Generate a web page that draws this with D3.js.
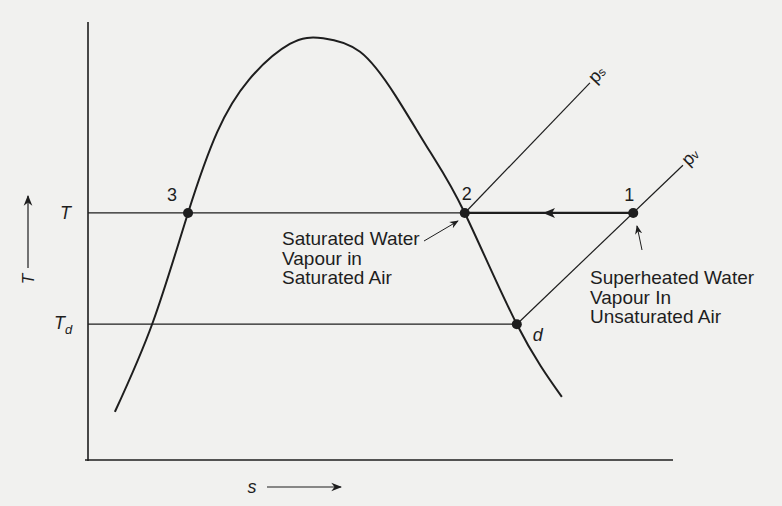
<!DOCTYPE html>
<html>
<head>
<meta charset="utf-8">
<script src="https://cdn.jsdelivr.net/npm/d3@7"></script>
<style>
  body { margin: 0; background: #f1f1ef; }
  svg { display: block; }
  text { font-family: "Liberation Sans", Arial, sans-serif; fill: #1e1e1e; }
</style>
</head>
<body>
<svg id="chart"></svg>
<script>
// saturation dome (entropy s, temperature T), arbitrary units 0-100
const domeS = [4.6, 11.1, 17.1, 22.1, 27.5, 34.5, 40.2, 46.5, 52.5, 58.5, 64.4, 73.3, 81.0];
const domeT = [11.0, 31.5, 56.4, 74.9, 86.8, 95.0, 96.3, 93.2, 83.3, 70.3, 56.4, 31.0, 14.4];

// isotherms
const levelNames = ["T", "Td"];
const levelT = [56.4, 31.0];

// state points
const pointNames = ["3", "2", "1", "d"];
const pointS = [17.1, 64.4, 93.2, 73.3];
const pointT = [56.4, 56.4, 56.4, 31.0];

// constant pressure lines
const psS = [64.4, 85.8];
const psT = [56.4, 86.1];
const pvS = [73.3, 101.7];
const pvT = [31.0, 67.3];

const svgWidth = 782;
const svgHeight = 506;
const margin = { top: 22, right: 109, bottom: 46, left: 88 };

const svg = d3.select("#chart")
  .attr("width", svgWidth)
  .attr("height", svgHeight);

svg.append("rect")
  .attr("width", svgWidth).attr("height", svgHeight)
  .attr("fill", "#f1f1ef");

const x = d3.scaleLinear().domain([0, 100]).range([margin.left, svgWidth - margin.right]);
const y = d3.scaleLinear().domain([0, 100]).range([svgHeight - margin.bottom, margin.top]);

const ink = "#1e1e1e";

// axes (plain lines, no ticks)
svg.append("line")
  .attr("x1", x(0)).attr("x2", x(0))
  .attr("y1", y(100)).attr("y2", y(0) + 1)
  .attr("stroke", ink).attr("stroke-width", 1.6);
svg.append("line")
  .attr("x1", x(0) - 3).attr("x2", x(100))
  .attr("y1", y(0)).attr("y2", y(0))
  .attr("stroke", ink).attr("stroke-width", 1.6);

// isotherm T: from axis to point 1, Td: from axis to point d
const levelEnd = [pointS[2], pointS[3]];
svg.selectAll(".level")
  .data(levelT)
  .enter().append("line")
  .attr("class", "level")
  .attr("x1", x(0))
  .attr("x2", (d, i) => x(levelEnd[i]))
  .attr("y1", d => y(d))
  .attr("y2", d => y(d))
  .attr("stroke", ink).attr("stroke-width", 1.3);

// process 1 -> 2 (heavier)
svg.append("line")
  .attr("x1", x(pointS[2])).attr("x2", x(pointS[1]))
  .attr("y1", y(pointT[2])).attr("y2", y(pointT[1]))
  .attr("stroke", ink).attr("stroke-width", 2.2);

// arrowhead pointing to 2
const ax = x((pointS[1] + pointS[2]) / 2);
const ay = y(pointT[1]);
svg.append("path")
  .attr("d", `M${ax - 6},${ay} L${ax + 6},${ay - 5} L${ax + 3},${ay} L${ax + 6},${ay + 5} Z`)
  .attr("fill", ink);

// saturation dome
const line = d3.line().curve(d3.curveNatural);
svg.append("path")
  .attr("d", line(domeS.map((s, i) => [x(s), y(domeT[i])])))
  .attr("fill", "none")
  .attr("stroke", ink)
  .attr("stroke-width", 2);

// constant pressure lines with rotated labels at their ends
function isobar(sArr, tArr, name) {
  const x1 = x(sArr[0]), y1 = y(tArr[0]), x2 = x(sArr[1]), y2 = y(tArr[1]);
  svg.append("line")
    .attr("x1", x1).attr("x2", x2).attr("y1", y1).attr("y2", y2)
    .attr("stroke", ink).attr("stroke-width", 1.2);
  const ang = Math.atan2(y2 - y1, x2 - x1) * 180 / Math.PI;
  const t = svg.append("text")
    .attr("transform", `translate(${x2},${y2}) rotate(${ang}) translate(3,5)`)
    .attr("font-size", 18)
    .text("p");
  t.append("tspan").attr("font-size", 12).attr("dy", 0).text(name);
}
isobar(psS, psT, "s");
isobar(pvS, pvT, "v");

// state points
svg.selectAll(".pt")
  .data(pointNames)
  .enter().append("circle")
  .attr("class", "pt")
  .attr("cx", (d, i) => x(pointS[i]))
  .attr("cy", (d, i) => y(pointT[i]))
  .attr("r", 5)
  .attr("fill", ink);

const labelOff = { "3": [-16, -12], "2": [2, -13], "1": [-4, -12], "d": [21, 17] };
svg.selectAll(".ptlabel")
  .data(pointNames)
  .enter().append("text")
  .attr("class", "ptlabel")
  .attr("x", (d, i) => x(pointS[i]) + labelOff[d][0])
  .attr("y", (d, i) => y(pointT[i]) + labelOff[d][1])
  .attr("text-anchor", "middle")
  .attr("font-size", 18)
  .attr("font-style", d => d === "d" ? "italic" : "normal")
  .text(d => d);

// isotherm labels
svg.append("text")
  .attr("x", 60).attr("y", y(levelT[0]) + 6)
  .attr("font-size", 18).attr("font-style", "italic")
  .text(levelNames[0]);
const td = svg.append("text")
  .attr("x", 54).attr("y", y(levelT[1]) + 5)
  .attr("font-size", 18).attr("font-style", "italic")
  .text("T");
td.append("tspan").attr("font-size", 13).attr("dy", 5).text("d");

// axis titles with arrows
svg.append("defs").append("marker")
  .attr("id", "ah").attr("viewBox", "0 0 10 10")
  .attr("refX", 9).attr("refY", 5)
  .attr("markerWidth", 9).attr("markerHeight", 9)
  .attr("orient", "auto")
  .append("path").attr("d", "M0,1 L10,5 L0,9 L3,5 Z").attr("fill", ink);

svg.append("line")
  .attr("x1", 28).attr("x2", 28).attr("y1", 268).attr("y2", 196)
  .attr("stroke", ink).attr("stroke-width", 1.2)
  .attr("marker-end", "url(#ah)");
svg.append("text")
  .attr("transform", "translate(28,279) rotate(-90)")
  .attr("text-anchor", "middle").attr("dy", "0.35em")
  .attr("font-size", 17).attr("font-style", "italic")
  .text("T");

svg.append("text")
  .attr("x", 252).attr("y", 493)
  .attr("text-anchor", "middle")
  .attr("font-size", 18).attr("font-style", "italic")
  .text("s");
svg.append("line")
  .attr("x1", 267).attr("x2", 341).attr("y1", 487).attr("y2", 487)
  .attr("stroke", ink).attr("stroke-width", 1.2)
  .attr("marker-end", "url(#ah)");

// annotations
function block(lines, x0, y0) {
  const t = svg.append("text").attr("x", x0).attr("y", y0).attr("font-size", 19);
  lines.forEach((l, i) => t.append("tspan").attr("x", x0).attr("dy", i ? 19.5 : 0).text(l));
}
block(["Saturated Water", "Vapour in", "Saturated Air"], 282, 245);
block(["Superheated Water", "Vapour In", "Unsaturated Air"], 590, 284);

// pointer arrows
svg.append("line")
  .attr("x1", 424).attr("y1", 241).attr("x2", 458).attr("y2", 221)
  .attr("stroke", ink).attr("stroke-width", 1)
  .attr("marker-end", "url(#ah)");
svg.append("line")
  .attr("x1", 642).attr("y1", 250).attr("x2", 637).attr("y2", 226)
  .attr("stroke", ink).attr("stroke-width", 1)
  .attr("marker-end", "url(#ah)");
</script>
</body>
</html>
